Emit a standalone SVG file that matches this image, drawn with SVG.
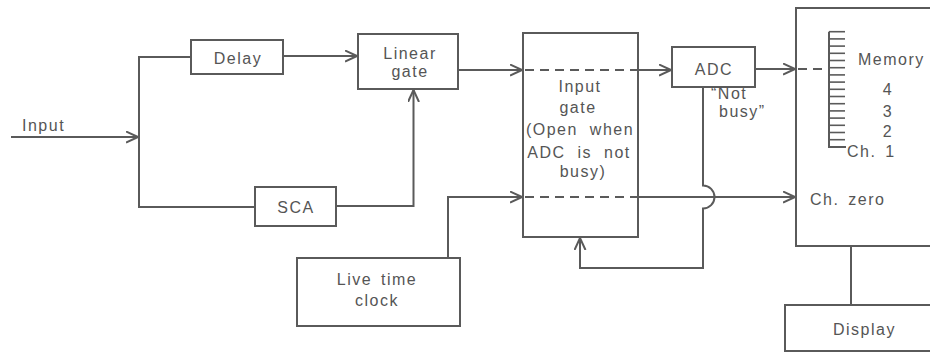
<svg xmlns="http://www.w3.org/2000/svg" width="930" height="353" viewBox="0 0 930 353">
  <style>
    .box { fill: none; stroke: #5a5a5a; stroke-width: 2; }
    .wire { fill: none; stroke: #5a5a5a; stroke-width: 2; }
    .dash { fill: none; stroke: #5a5a5a; stroke-width: 2; stroke-dasharray: 9 6; }
    .tick { stroke: #5a5a5a; stroke-width: 1.6; }
    text { font-family: "Liberation Sans", Arial, sans-serif; font-size: 16px; fill: #555; letter-spacing: 1.5px; }
    .c { text-anchor: middle; }
  </style>
  <defs>
    <marker id="arrow" markerUnits="userSpaceOnUse" markerWidth="14" markerHeight="14" refX="12" refY="6" orient="auto" viewBox="0 0 14 14">
      <path d="M0,0.5 L12,6 L0,11.5" fill="none" stroke="#5a5a5a" stroke-width="2"/>
    </marker>
  </defs>
  <rect width="930" height="353" fill="#ffffff"/>

  <g id="connectors">
    <!-- input line into the splitter -->
    <path class="wire" d="M11,137 H138" marker-end="url(#arrow)"/>
    <!-- split: top to delay, bottom to SCA -->
    <path class="wire" d="M191,57 H139 V207 H255"/>
    <!-- delay to linear gate -->
    <path class="wire" d="M283,56 H357" marker-end="url(#arrow)"/>
    <!-- SCA to linear gate (gating) -->
    <path class="wire" d="M336,206 H413.5 V90" marker-end="url(#arrow)"/>
    <!-- linear gate to input gate -->
    <path class="wire" d="M458,70 H522" marker-end="url(#arrow)"/>
    <path class="dash" d="M525,70 H638"/>
    <path class="wire" d="M638,70 H671" marker-end="url(#arrow)"/>
    <!-- ADC to memory -->
    <path class="wire" d="M755,69 H795" marker-end="url(#arrow)"/>
    <path class="dash" d="M798,69 H828"/>
    <!-- live time clock through input gate to channel zero -->
    <path class="wire" d="M448,258 V197 H522" marker-end="url(#arrow)"/>
    <path class="dash" d="M525,197 H638"/>
    <path class="wire" d="M638,197 H795" marker-end="url(#arrow)"/>
    <!-- "not busy" feedback, hopping over the live time line -->
    <path class="wire" d="M703,87 V185.5 A11.5,11.5 0 0 1 703,208.5 V268 H580 V238" marker-end="url(#arrow)"/>
    <!-- memory to display -->
    <path class="wire" d="M851,246 V305"/>
  </g>

  <g id="input-label">
    <text x="22" y="131">Input</text>
  </g>

  <g id="delay">
    <rect class="box" x="191" y="40" width="92" height="34"/>
    <text class="c" x="238" y="64">Delay</text>
  </g>

  <g id="linear-gate">
    <rect class="box" x="358" y="34" width="100" height="55"/>
    <text class="c" x="410" y="59">Linear</text>
    <text class="c" x="410" y="77">gate</text>
  </g>

  <g id="sca">
    <rect class="box" x="255" y="187" width="81" height="39"/>
    <text class="c" x="296" y="213">SCA</text>
  </g>

  <g id="live-time-clock">
    <rect class="box" x="297" y="258" width="163" height="68"/>
    <text class="c" x="377" y="285" style="word-spacing:3px">Live time</text>
    <text class="c" x="377" y="306">clock</text>
  </g>

  <g id="input-gate">
    <rect class="box" x="523" y="33" width="115" height="204"/>
    <text class="c" x="580" y="92">Input</text>
    <text class="c" x="578" y="113">gate</text>
    <text class="c" x="580" y="135" style="word-spacing:6px">(Open when</text>
    <text class="c" x="579" y="158" style="word-spacing:6px">ADC is not</text>
    <text class="c" x="583" y="177">busy)</text>
  </g>

  <g id="adc">
    <rect class="box" x="672" y="47" width="83" height="40"/>
    <text class="c" x="714" y="75">ADC</text>
  </g>

  <g id="not-busy-label">
    <text x="711" y="99">“Not</text>
    <text x="719" y="117">busy”</text>
  </g>

  <g id="memory">
    <rect class="box" x="796" y="8" width="150" height="238"/>
    <path class="wire" d="M829,31.7 V147 H846"/>
    <g class="tick">
      <line x1="829" y1="31.7" x2="845" y2="31.7"/>
      <line x1="829" y1="38.9" x2="845" y2="38.9"/>
      <line x1="829" y1="46.1" x2="845" y2="46.1"/>
      <line x1="829" y1="53.3" x2="845" y2="53.3"/>
      <line x1="829" y1="60.5" x2="845" y2="60.5"/>
      <line x1="829" y1="67.7" x2="845" y2="67.7"/>
      <line x1="829" y1="74.9" x2="845" y2="74.9"/>
      <line x1="829" y1="82.1" x2="845" y2="82.1"/>
      <line x1="829" y1="89.3" x2="845" y2="89.3"/>
      <line x1="829" y1="96.5" x2="845" y2="96.5"/>
      <line x1="829" y1="103.7" x2="845" y2="103.7"/>
      <line x1="829" y1="110.9" x2="845" y2="110.9"/>
      <line x1="829" y1="118.1" x2="845" y2="118.1"/>
      <line x1="829" y1="125.3" x2="845" y2="125.3"/>
      <line x1="829" y1="132.5" x2="845" y2="132.5"/>
      <line x1="829" y1="139.7" x2="845" y2="139.7"/>
    </g>
    <text x="858" y="65">Memory</text>
    <text class="c" x="888" y="95">4</text>
    <text class="c" x="888" y="117">3</text>
    <text class="c" x="888" y="137">2</text>
    <text x="847" y="157" style="word-spacing:3px">Ch. 1</text>
    <text x="810" y="205" style="word-spacing:3px">Ch. zero</text>
  </g>

  <g id="display">
    <rect class="box" x="785" y="305" width="160" height="46"/>
    <text x="833" y="335">Display</text>
  </g>
</svg>
